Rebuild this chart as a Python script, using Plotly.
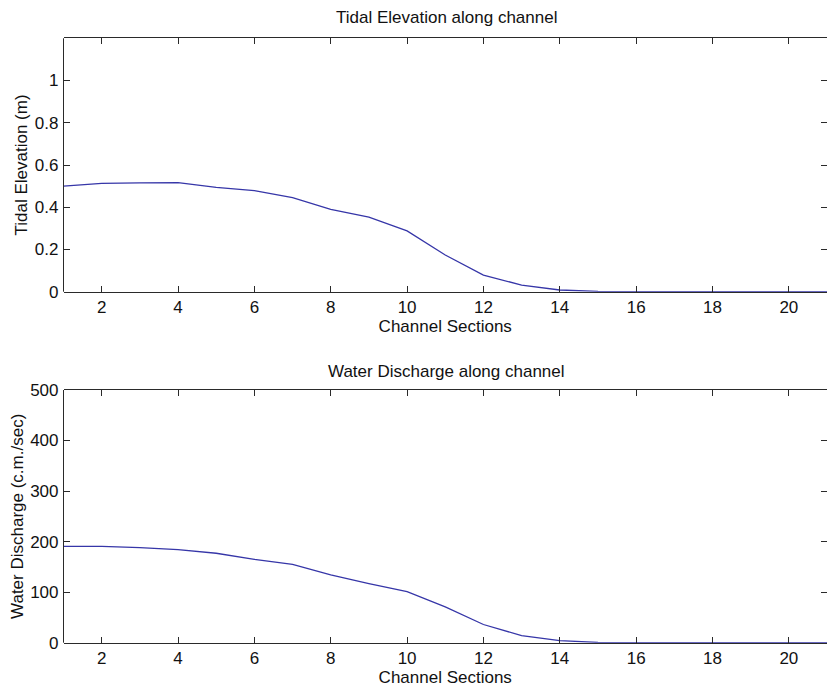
import plotly.graph_objects as go

# Channel sections along the estuary
sections = list(range(1, 22))

# Tidal elevation (m) at each section
tidal_elevation = [0.500, 0.513, 0.515, 0.517, 0.494, 0.479, 0.446, 0.390, 0.353, 0.288,
                   0.174, 0.079, 0.031, 0.008, 0.002, 0.0, 0.0, 0.0, 0.0, 0.0, 0.0]

# Water discharge (c.m./sec) at each section
water_discharge = [190.7, 190.5, 188.0, 184.0, 177.0, 165.0, 155.0, 134.0, 117.0, 101.0,
                   71.0, 36.0, 14.0, 4.0, 0.5, 0.0, 0.0, 0.0, 0.0, 0.0, 0.0]

x_ticks = [2, 4, 6, 8, 10, 12, 14, 16, 18, 20]
elev_ticks = [0, 0.2, 0.4, 0.6, 0.8, 1]
elev_tick_text = ["0", "0.2", "0.4", "0.6", "0.8", "1"]
disch_ticks = [0, 100, 200, 300, 400, 500]

W, H = 827, 690
FONT = "Liberation Sans, Arial, sans-serif"
LINE_COLOR = "#3636a8"
AXIS_COLOR = "#2a2a2a"
TEXT_COLOR = "#111111"

fig = go.Figure()
fig.add_trace(go.Scatter(x=sections, y=tidal_elevation, mode="lines",
                         line=dict(color=LINE_COLOR, width=1.3),
                         xaxis="x", yaxis="y", showlegend=False))
fig.add_trace(go.Scatter(x=sections, y=water_discharge, mode="lines",
                         line=dict(color=LINE_COLOR, width=1.3),
                         xaxis="x2", yaxis="y2", showlegend=False))


def px_y(p):
    return 1 - p / H


top_dom = [px_y(291.7), px_y(38.3)]
bot_dom = [px_y(642.7), px_y(390.0)]
x_dom = [63.5 / W, 1.0]

xcommon = dict(range=[1, 21], tickvals=x_ticks, ticks="inside", ticklen=6,
               tickcolor=AXIS_COLOR, tickwidth=1, showline=True, linecolor=AXIS_COLOR,
               linewidth=1, mirror="ticks", showgrid=False, zeroline=False,
               automargin=False,
               tickfont=dict(family=FONT, size=17, color=TEXT_COLOR),
               title=dict(text="Channel Sections", font=dict(family=FONT, size=17, color=TEXT_COLOR),
                          standoff=2),
               domain=x_dom)
ycommon = dict(ticks="inside", ticklen=6, tickcolor=AXIS_COLOR, tickwidth=1,
               showline=False, mirror="ticks", showgrid=False, zeroline=False,
               automargin=False, ticklabelstandoff=4,
               tickfont=dict(family=FONT, size=17, color=TEXT_COLOR))

fig.update_layout(
    width=W, height=H, autosize=False,
    margin=dict(l=0, r=0, t=0, b=0, pad=0),
    paper_bgcolor="white", plot_bgcolor="white",
    xaxis=dict(**xcommon, anchor="y"),
    xaxis2=dict(**xcommon, anchor="y2"),
    yaxis=dict(**ycommon, range=[0, 1.2], tickvals=elev_ticks, ticktext=elev_tick_text,
               domain=top_dom, anchor="x",
               title=dict(text="Tidal Elevation (m)", font=dict(family=FONT, size=17, color=TEXT_COLOR),
                          standoff=2)),
    yaxis2=dict(**ycommon, range=[0, 500], tickvals=disch_ticks,
                domain=bot_dom, anchor="x2",
                title=dict(text="Water Discharge (c.m./sec)", font=dict(family=FONT, size=17, color=TEXT_COLOR),
                           standoff=2)),
    annotations=[
        dict(text="Tidal Elevation along channel", xref="paper", yref="paper",
             x=(x_dom[0] + 830 / W) / 2, y=px_y(18), xanchor="center", yanchor="middle",
             showarrow=False, font=dict(family=FONT, size=17, color=TEXT_COLOR)),
        dict(text="Water Discharge along channel", xref="paper", yref="paper",
             x=(x_dom[0] + 830 / W) / 2, y=px_y(371), xanchor="center", yanchor="middle",
             showarrow=False, font=dict(family=FONT, size=17, color=TEXT_COLOR)),
    ],
    shapes=[
        # left frame edges of both panels
        dict(type="line", xref="x domain", yref="y domain", x0=0, x1=0, y0=0, y1=1,
             line=dict(color=AXIS_COLOR, width=1)),
        dict(type="line", xref="x2 domain", yref="y2 domain", x0=0, x1=0, y0=0, y1=1,
             line=dict(color=AXIS_COLOR, width=1)),
    ],
)

fig.write_html("out.html")
